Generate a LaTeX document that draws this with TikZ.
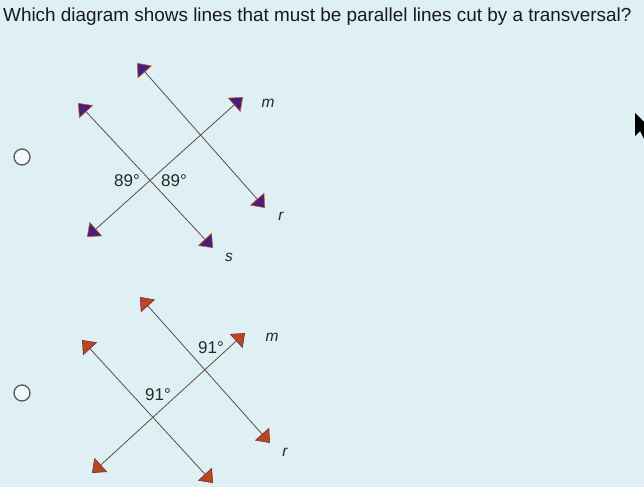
\documentclass[tikz,border=0pt]{standalone}
\usepackage{fontspec}
\setmainfont{Liberation Sans}
\usetikzlibrary{arrows.meta}
\definecolor{bgc}{HTML}{DEF0F3}
\definecolor{linec}{HTML}{5E4A44}
\definecolor{tipa}{HTML}{4A1C7C}
\definecolor{tipb}{HTML}{B8481C}
\definecolor{tipedge}{HTML}{C0602A}
\tikzset{
  ln/.style={draw=linec,line width=0.8pt},
  tipsa/.style={ln,{Triangle[length=12pt,width=19pt,color=tipedge,fill=tipa,line width=0.6pt]}-{Triangle[length=12pt,width=19pt,color=tipedge,fill=tipa,line width=0.6pt]}},
  tipsb/.style={ln,{Triangle[length=12pt,width=19pt,color=tipa!60!tipb,fill=tipb,line width=0.6pt]}-{Triangle[length=12pt,width=19pt,color=tipa!60!tipb,fill=tipb,line width=0.6pt]}},
  lbl/.style={font=\fontsize{15.5}{15.5}\selectfont\itshape,text=black!85},
  ang/.style={font=\fontsize{17}{17}\selectfont,text=black!85},
  radio/.style={draw=black!65,line width=1.3pt,fill=white!60!bgc}
}
\begin{document}
\begin{tikzpicture}[x=1pt,y=-1pt]
  \fill[bgc] (0,0) rectangle (644,487);
  \useasboundingbox (0,0) rectangle (644,487);
  \node[anchor=west,font=\fontsize{18.9}{18.9}\selectfont,text=black!90,inner sep=0pt] (title) at (3,17) {Which diagram shows lines that must be parallel lines cut by a transversal?};
  % first choice
  \node[radio,circle,minimum size=16pt,inner sep=0pt] (opta) at (22,157) {};
  \coordinate (ra1) at (137,63);  \coordinate (ra2) at (265,208);
  \coordinate (sa1) at (78,103);  \coordinate (sa2) at (213,248);
  \coordinate (ma1) at (243,97);  \coordinate (ma2) at (87,237);
  \draw[tipsa] (ra1)--(ra2);
  \draw[tipsa] (sa1)--(sa2);
  \draw[tipsa] (ma1)--(ma2);
  \node[lbl] (ma) at (268,103) {m};
  \node[lbl] (ra) at (281,216) {r};
  \node[lbl] (sa) at (229,257) {s};
  \node[ang] (a1) at (127,181) {89°};
  \node[ang] (a2) at (174,181) {89°};
  % second choice
  \node[radio,circle,minimum size=16pt,inner sep=0pt] (optb) at (22,393) {};
  \coordinate (rb1) at (140,297); \coordinate (rb2) at (270,443);
  \coordinate (sb1) at (82,340);  \coordinate (sb2) at (213,483);
  \coordinate (mb1) at (245,333); \coordinate (mb2) at (92,473);
  \draw[tipsb] (rb1)--(rb2);
  \draw[tipsb] (sb1)--(sb2);
  \draw[tipsb] (mb1)--(mb2);
  \node[lbl] (mb) at (272,337) {m};
  \node[lbl] (rb) at (285,452) {r};
  \node[ang] (b1) at (211,348) {91°};
  \node[ang] (b2) at (158,395) {91°};
  % pointer at the right edge
  \fill[black] (635,113)--(635,136)--(640,131)--(644,139)--(644,122)--cycle;
\end{tikzpicture}
\end{document}
